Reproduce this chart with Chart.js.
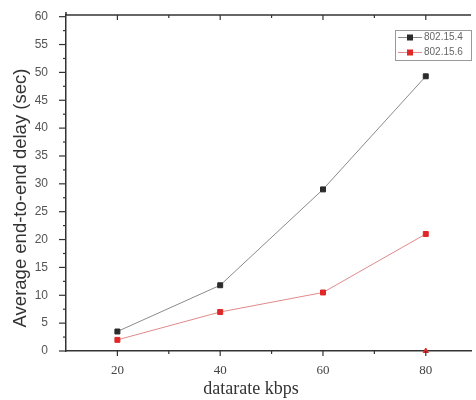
<!DOCTYPE html>
<html><head><meta charset="utf-8">
<script src="https://cdn.jsdelivr.net/npm/chart.js@4/dist/chart.umd.min.js"></script>
<style>html,body{margin:0;padding:0;background:#fff}#wrap{width:476px;height:400px}</style>
</head><body><div id="wrap"><canvas id="c" width="476" height="400"></canvas></div>
<script>
const datarates = [20, 40, 60, 80];
const delay154 = [3.5, 11.8, 29.0, 49.3];
const delay156 = [2.0, 7.0, 10.5, 21.0];
const strayPoint = [{x: 80, y: 0}];
const seriesNames = ['802.15.4', '802.15.6'];
const xTitle = 'datarate kbps';
const yTitle = 'Average end-to-end delay (sec)';

const toXY = (xs, ys) => xs.map((x, i) => ({x, y: ys[i]}));

const tickPlugin = {
  id: 'ticksAndLegend',
  afterDraw(chart) {
    const ctx = chart.ctx, ca = chart.chartArea;
    const xs = chart.scales.x, ys = chart.scales.y;
    ctx.save();
    ctx.strokeStyle = '#333';
    ctx.lineWidth = 1.5;
    // top border
    ctx.beginPath(); ctx.moveTo(ca.left, ca.top); ctx.lineTo(ca.right, ca.top); ctx.stroke();
    ctx.beginPath(); ctx.moveTo(ca.left, ca.top); ctx.lineTo(ca.left, ca.top - 3); ctx.stroke();
    ctx.lineWidth = 1.2;
    // x ticks
    for (let v = 20; v <= 80; v += 10) {
      const px = xs.getPixelForValue(v);
      const major = v % 20 === 0;
      const len = major ? 5 : 3;
      ctx.beginPath(); ctx.moveTo(px, ca.bottom); ctx.lineTo(px, ca.bottom + len); ctx.stroke();
      ctx.beginPath(); ctx.moveTo(px, ca.top); ctx.lineTo(px, ca.top + len); ctx.stroke();
    }
    // y ticks
    for (let v = 0; v <= 60; v += 2.5) {
      const py = ys.getPixelForValue(v);
      const major = v % 5 === 0;
      const len = major ? 7 : 3;
      ctx.beginPath(); ctx.moveTo(ca.left, py); ctx.lineTo(ca.left - len, py); ctx.stroke();
    }
    // axis titles
    ctx.fillStyle = '#333';
    ctx.textAlign = 'center';
    ctx.textBaseline = 'middle';
    ctx.font = '18px "Liberation Serif", "Times New Roman", serif';
    ctx.fillText(xTitle, 251, 389);
    ctx.save();
    ctx.translate(21, 198);
    ctx.rotate(-Math.PI / 2);
    ctx.font = '18.5px "Liberation Sans", Arial, sans-serif';
    ctx.fillText(yTitle, 0, 0);
    ctx.restore();
    // legend
    const lx = 395, ly = 30, lw = 76, lh = 30;
    ctx.strokeStyle = '#999'; ctx.lineWidth = 1;
    ctx.strokeRect(lx + 0.5, ly + 0.5, lw, lh);
    ctx.font = '10px "Liberation Sans", Arial, sans-serif';
    ctx.textAlign = 'left';
    chart.data.datasets.slice(0, 2).forEach((ds, i) => {
      const y = ly + 7.5 + i * 15;
      ctx.strokeStyle = ds.borderColor; ctx.lineWidth = 1;
      ctx.beginPath(); ctx.moveTo(lx + 3, y); ctx.lineTo(lx + 27, y); ctx.stroke();
      ctx.fillStyle = ds.pointBackgroundColor;
      ctx.fillRect(lx + 12, y - 3, 6, 6);
      ctx.fillStyle = '#666';
      ctx.fillText(ds.label, lx + 29, y);
    });
    ctx.restore();
  }
};

new Chart(document.getElementById('c'), {
  type: 'line',
  data: {
    datasets: [
      {label: seriesNames[0], data: toXY(datarates, delay154), borderColor: '#8a8a8a', borderWidth: 1,
       pointStyle: 'rect', pointRadius: 3.5, pointBackgroundColor: '#2b2b2b', pointBorderColor: '#2b2b2b', tension: 0},
      {label: seriesNames[1], data: toXY(datarates, delay156), borderColor: '#e08a8a', borderWidth: 1,
       pointStyle: 'rect', pointRadius: 3.5, pointBackgroundColor: '#e02828', pointBorderColor: '#e02828', tension: 0},
      {label: 'stray', data: strayPoint, showLine: false, pointStyle: 'triangle', pointRadius: 3,
       pointBackgroundColor: '#e02828', pointBorderColor: '#e02828', clip: false}
    ]
  },
  options: {
    responsive: false,
    animation: false,
    events: [],
    layout: {padding: {top: 15, right: 0, bottom: 0, left: 0}},
    plugins: {legend: {display: false}, tooltip: {enabled: false}},
    scales: {
      x: {
        type: 'linear', min: 10, max: 88.8,
        afterFit(s) { s.height = 49; s.paddingLeft = 0; s.paddingRight = 0; },
        grid: {drawOnChartArea: false, drawTicks: false},
        border: {display: true, color: '#333', width: 1.5},
        ticks: {stepSize: 10, includeBounds: false, padding: 12, maxRotation: 0, autoSkip: false,
          color: '#444', font: {family: '"Liberation Serif", "Times New Roman", serif', size: 13},
          callback: v => (v % 20 === 0 && v >= 20 && v <= 80) ? String(v) : ''},
        title: {display: false}
      },
      y: {
        type: 'linear', min: 0, max: 60.3,
        afterFit(s) { s.width = 66; s.paddingTop = 0; s.paddingBottom = 0; },
        grid: {drawOnChartArea: false, drawTicks: false},
        border: {display: true, color: '#333', width: 1.5},
        ticks: {stepSize: 5, includeBounds: false, padding: 18, color: '#555',
          font: {family: '"Liberation Sans", Arial, sans-serif', size: 12},
          callback: v => (v % 5 === 0) ? String(v) : ''},
        title: {display: false}
      }
    }
  },
  plugins: [tickPlugin]
});
</script></body></html>
